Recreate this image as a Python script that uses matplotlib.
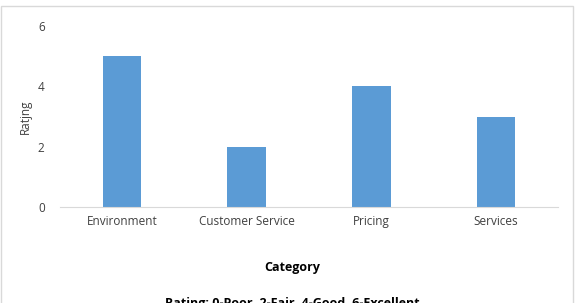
import matplotlib.pyplot as plt
from matplotlib.patches import Rectangle

categories = ['Environment', 'Customer Service', 'Pricing', 'Services']
ratings = [5, 2, 4, 3]
yticks = [0, 2, 4, 6]

plt.rcParams['font.family'] = ['Open Sans', 'DejaVu Sans']

fig = plt.figure(figsize=(5.76, 3.03), dpi=100)
ax = fig.add_axes([0.104, 0.317, 0.865, 0.597])

ax.bar(range(len(categories)), ratings, width=0.31, color='#5b9bd5')
ax.set_xlim(-0.5, len(categories) - 0.5)
ax.set_ylim(0, 6)
ax.set_yticks(yticks)
ax.set_xticks(range(len(categories)))
ax.set_xticklabels(categories, fontsize=8.5, color='#404040')
ax.tick_params(axis='y', labelsize=8.5, labelcolor='#404040', length=0, pad=11)
ax.tick_params(axis='x', length=0, pad=6)

for s in ['top', 'right', 'left']:
    ax.spines[s].set_visible(False)
ax.spines['bottom'].set_color('#d9d9d9')

ax.set_ylabel('Ratjng', fontsize=8.5, color='#404040', labelpad=4)
fig.text(0.507, 0.118, 'Category', fontsize=9, fontweight='bold',
         ha='center', va='center', color='black')
fig.text(0.507, 0.0, 'Rating: 0-Poor, 2-Fair, 4-Good, 6-Excellent', fontsize=9,
         fontweight='bold', ha='center', va='center', color='black')

fig.patches.append(Rectangle((0.002, -0.1), 0.993, 1.08, transform=fig.transFigure,
                             fill=False, edgecolor='#d9d9d9', linewidth=1))

fig.savefig('out.png', dpi=100)
